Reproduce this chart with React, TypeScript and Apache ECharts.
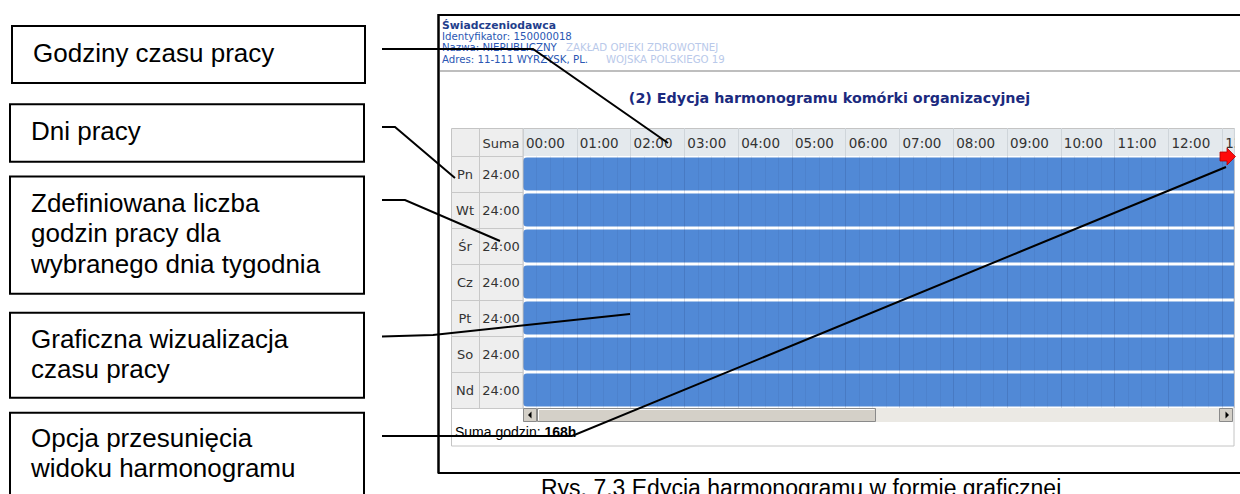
import React, { useEffect, useRef } from "react";
import * as echarts from "echarts";

// ---- data ----
const DAYS = ["Pn", "Wt", "Śr", "Cz", "Pt", "So", "Nd"];
const HOURS_PER_DAY = [24, 24, 24, 24, 24, 24, 24];
const HOUR_LABELS = [
  "00:00", "01:00", "02:00", "03:00", "04:00", "05:00", "06:00", "07:00",
  "08:00", "09:00", "10:00", "11:00", "12:00", "13:00", "14:00", "15:00",
  "16:00", "17:00", "18:00", "19:00", "20:00", "21:00", "22:00", "23:00",
];
const VIEW_HOURS = 13.22; // visible window of the timeline (hours)

const CALLOUTS = [
  { lines: ["Godziny czasu pracy"], baselines: [62], x: 33 },
  { lines: ["Dni pracy"], baselines: [140], x: 31 },
  { lines: ["Zdefiniowana liczba", "godzin pracy dla", "wybranego dnia tygodnia"], baselines: [212, 242, 272.7], x: 31 },
  { lines: ["Graficzna wizualizacja", "czasu pracy"], baselines: [347.7, 378], x: 31 },
  { lines: ["Opcja przesunięcia", "widoku harmonogramu"], baselines: [446.7, 476.7], x: 31 },
];

const DOC_FONT = "'Liberation Sans', Arial, sans-serif";
const UI_FONT = "'DejaVu Sans', Verdana, sans-serif";

function txt(text: string, x: number, baseline: number, size: number, opts: any = {}) {
  const align = opts.align || "left";
  return {
    type: "text",
    x,
    y: baseline - 0.346 * size,
    z: opts.z ?? 20,
    silent: true,
    style: {
      text,
      fontSize: size,
      fontFamily: opts.family || DOC_FONT,
      fontWeight: opts.weight || "normal",
      fill: opts.color || "#000",
      align,
      verticalAlign: "middle",
      textAlign: align,
      textVerticalAlign: "middle",
      rich: opts.rich,
    },
  };
}

function line(points: number[][], color = "#000", width = 2, z = 100) {
  return { type: "polyline", z, silent: true, shape: { points }, style: { stroke: color, lineWidth: width, fill: null } };
}

function rect(x: number, y: number, w: number, h: number, fill: any, stroke: any = null, lw = 1, z = 0) {
  return { type: "rect", z, silent: true, shape: { x, y, width: w, height: h }, style: { fill, stroke, lineWidth: lw } };
}

export default function App() {
  const ref = useRef<HTMLDivElement>(null);
  useEffect(() => {
    if (!ref.current) return;
    const chart = echarts.init(ref.current, undefined, { renderer: "svg" });
    const totalHours = HOURS_PER_DAY.reduce((a, b) => a + b, 0);
    const fmtSum = (h: number) => `${h}:00`;

    const boxes = [
      [12, 26, 353, 57],
      [10, 104.3, 354, 57.4],
      [10, 176.5, 354, 117.2],
      [10, 312.7, 354, 85],
      [10, 412.7, 354, 100],
    ];

    const graphic: any[] = [];
    boxes.forEach((b) => graphic.push(rect(b[0], b[1], b[2], b[3], "#fff", "#000", 2, 10)));
    CALLOUTS.forEach((c) => c.lines.forEach((l, i) => graphic.push(txt(l, c.x, c.baselines[i], 26))));

    // screenshot frame
    graphic.push(line([[438.5, 14], [438.5, 473.5]], "#000", 2.5, 30));
    graphic.push(line([[438, 15], [1240, 15]], "#000", 2, 30));
    graphic.push(line([[438, 473], [1240, 473]], "#000", 2, 30));

    // screenshot header
    graphic.push(txt("Świadczeniodawca", 442, 29.3, 10.8, { family: UI_FONT, weight: "bold", color: "#1f3e8c" }));
    graphic.push(txt("Identyfikator: 150000018", 442, 40, 10.2, { family: UI_FONT, color: "#2a57b3" }));
    graphic.push(txt("Nazwa: NIEPUBLICZNY", 442, 51.5, 10.2, { family: UI_FONT, color: "#2a57b3" }));
    graphic.push(txt("ZAKŁAD OPIEKI ZDROWOTNEJ", 566, 51.5, 10.2, { family: UI_FONT, color: "#b9c9ea" }));
    graphic.push(txt("Adres: 11-111 WYRZYSK, PL.", 442, 63, 10.2, { family: UI_FONT, color: "#2a57b3" }));
    graphic.push(txt("WOJSKA POLSKIEGO 19", 606, 63, 10.2, { family: UI_FONT, color: "#b9c9ea" }));
    graphic.push(line([[440, 71], [1240, 71]], "#a8a8a8", 1.5, 5));
    graphic.push(
      txt("(2) Edycja harmonogramu komórki organizacyjnej", 829.5, 103.3, 14.3, {
        family: UI_FONT, weight: "bold", color: "#1b2a7e", align: "center",
      })
    );

    // table skeleton
    graphic.push(rect(451.5, 128.5, 782.5, 317.5, "#ffffff", "#c4c4c4", 1, 0));
    graphic.push(rect(452, 129, 71, 279, "#eeeeee", null, 1, 1));
    graphic.push(rect(523, 129, 710.5, 27, "#e4e9ed", null, 1, 1));
    graphic.push(line([[479.5, 128.5], [479.5, 408]], "#c8c8c8", 1, 4));
    graphic.push(line([[523, 128.5], [523, 408]], "#c8c8c8", 1, 4));
    graphic.push(txt("Suma", 501, 147.7, 13, { family: UI_FONT, color: "#333", align: "center", z: 5 }));

    // scrollbar
    graphic.push(rect(523, 408, 710, 14, "#ebe9e4", null, 1, 4));
    graphic.push(rect(523.5, 408.5, 13, 13, "#d4d0c8", "#8a8a8a", 1, 5));
    graphic.push({ type: "polygon", z: 6, silent: true, shape: { points: [[528, 415], [531.5, 411.5], [531.5, 418.5]] }, style: { fill: "#000" } });
    graphic.push(rect(537.5, 408.5, 338, 13, "#d4d0c8", "#8a8a8a", 1, 5));
    graphic.push(line([[538.5, 420.5], [538.5, 409.5], [874.5, 409.5]], "#ffffff", 1, 6));
    graphic.push(rect(1219.5, 408.5, 13, 13, "#d4d0c8", "#8a8a8a", 1, 5));
    graphic.push({ type: "polygon", z: 6, silent: true, shape: { points: [[1229, 415], [1225.5, 411.5], [1225.5, 418.5]] }, style: { fill: "#000" } });

    graphic.push(
      txt(`{n|Suma godzin: }{b|${totalHours}h}`, 455, 437, 14, {
        z: 20,
        rich: {
          n: { fontSize: 14, fontFamily: DOC_FONT, fill: "#000", color: "#000" },
          b: { fontSize: 14, fontFamily: DOC_FONT, fontWeight: "bold", fill: "#000", color: "#000" },
        },
      })
    );

    // cover outside the table on the right
    graphic.push(rect(1235, 120, 5, 330, "#ffffff", null, 1, 50));

    // red arrow
    graphic.push({
      type: "polygon", z: 101, silent: true,
      shape: { points: [[1220, 152], [1227, 152], [1227, 148], [1235.5, 156.5], [1227, 165], [1227, 161], [1220, 161]] },
      style: { fill: "#ff0a0a", stroke: "#b00000", lineWidth: 0.8 },
    });

    // connectors
    graphic.push(line([[382, 49], [533, 49], [668, 143]]));
    graphic.push(line([[382, 127], [395, 127], [455, 178]]));
    graphic.push(line([[382, 200], [405, 200], [500, 241]]));
    graphic.push(line([[382, 336.5], [433, 335], [630, 314]]));
    graphic.push(line([[382, 436], [572, 436], [1226, 167]]));

    // caption
    graphic.push(txt("Rys. 7.3 Edycja harmonogramu w formie graficznej", 541, 496, 23));

    chart.setOption({
      animation: false,
      backgroundColor: "#ffffff",
      grid: {
        left: 523, top: 156, width: 711, height: 252,
        show: true, backgroundColor: "#e8e8e8", borderWidth: 0, containLabel: false,
        outerBoundsMode: "none",
      },
      xAxis: {
        type: "value", position: "top", min: 0, max: VIEW_HOURS, interval: 1, z: 3,
        axisLine: { show: false },
        axisTick: { show: true, length: 28, lineStyle: { color: "#cfd5da", width: 1 } },
        axisLabel: {
          show: true, margin: 6, align: "left", padding: [0, 0, 0, 3],
          color: "#333", fontSize: 13.5, fontFamily: UI_FONT, hideOverlap: false,
          formatter: (v: number) => (Number.isInteger(v) ? HOUR_LABELS[v] ?? "" : ""),
        },
        splitLine: { show: true, lineStyle: { color: "rgba(25,45,100,0.16)", width: 1 } },
        minorTick: { show: false, splitNumber: 4 },
        minorSplitLine: { show: true, lineStyle: { color: "rgba(25,45,100,0.07)", width: 1 } },
      },
      yAxis: {
        type: "category", data: DAYS, inverse: true, z: 3,
        axisLine: { show: false },
        axisTick: { show: true, interval: 0, length: 72, lineStyle: { color: "#c8c8c8", width: 1 } },
        splitLine: { show: false },
        axisLabel: {
          interval: 0, margin: 0, color: "#333", fontSize: 13, fontFamily: UI_FONT,
          formatter: (v: string, i: number) => `{d|${v}}{s|${fmtSum(HOURS_PER_DAY[i])}}`,
          rich: {
            d: { width: 28, align: "center", fontSize: 13, fontFamily: UI_FONT, color: "#333" },
            s: { width: 44, align: "center", fontSize: 13, fontFamily: UI_FONT, color: "#333" },
          },
        },
      },
      series: [
        {
          type: "bar", data: HOURS_PER_DAY, barWidth: 33, clip: true, z: 2,
          itemStyle: { color: "#5189d6", borderRadius: [4, 0, 0, 4] },
        },
      ],
      graphic: { elements: graphic },
    });
    return () => chart.dispose();
  }, []);
  return <div ref={ref} style={{ position: "fixed", left: 0, top: 0, width: 1240, height: 494 }} />;
}
